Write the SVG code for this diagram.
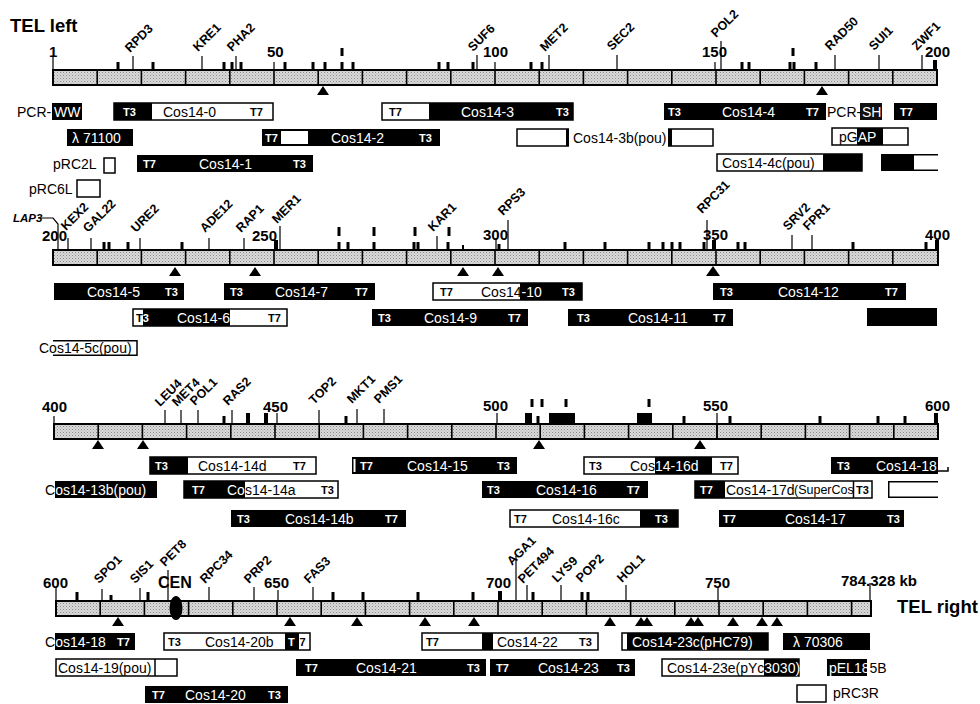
<svg xmlns="http://www.w3.org/2000/svg" width="980" height="704" viewBox="0 0 980 704">
<defs>
<pattern id="st" width="3" height="3" patternUnits="userSpaceOnUse"><rect width="3" height="3" fill="#dadada"/><rect width="1" height="1" fill="#8a8a8a"/><rect x="1.5" y="1.5" width="1" height="1" fill="#a8a8a8"/></pattern>
<style>
.bar{fill:url(#st);stroke:#000;stroke-width:2}
.dv{stroke:#000;stroke-width:1.6;fill:none}
.tk{fill:#000}
.gl{stroke:#000;stroke-width:1.2;fill:none}
.tri{fill:#000}
.gn{font-family:"Liberation Sans",Arial,sans-serif;font-weight:bold;font-size:12.5px;fill:#000}
.num{font-family:"Liberation Sans",Arial,sans-serif;font-weight:bold;font-size:15px;fill:#000}
.ttl{font-family:"Liberation Sans",Arial,sans-serif;font-weight:bold;font-size:18.5px;fill:#000}
.bk{fill:#000}
.wh{fill:#fff;stroke:#000;stroke-width:1.5}
.ol{fill:none;stroke:#000;stroke-width:1.5}
.t{font-family:"Liberation Sans",Arial,sans-serif;font-size:14px}
.p{font-family:"Liberation Sans",Arial,sans-serif;font-weight:bold;font-size:11px}
.w{fill:#fff}
.b{fill:#000}
</style>
</defs>
<rect width="980" height="704" fill="#fff"/>

<!-- ===== ROW 1 ===== -->
<g id="row1-map">
<text class="ttl" x="10" y="32">TEL left</text>
<rect class="bar" x="53" y="70" width="884" height="15"/>
<path class="dv" d="M97.2,70V85M141.4,70V85M185.6,70V85M229.8,70V85M274,70V85M318.2,70V85M362.4,70V85M406.6,70V85M450.8,70V85M495,70V85M539.2,70V85M583.4,70V85M627.6,70V85M671.8,70V85M716,70V85M760.2,70V85M804.4,70V85M848.6,70V85M892.8,70V85"/>
<path class="gl" d="M53,57V70M274,62V70M495,62V70M715,62V70"/>
<g class="tk">
<rect x="116.5" y="62" width="3" height="8"/><rect x="151.5" y="62" width="3" height="8"/><rect x="222.5" y="62" width="3" height="8"/><rect x="230.5" y="62" width="3" height="8"/><rect x="239.5" y="62" width="3" height="8"/><rect x="283.5" y="62" width="3" height="8"/><rect x="311.5" y="62" width="3" height="8"/><rect x="323.5" y="62" width="3" height="8"/><rect x="340.5" y="62" width="3" height="8"/><rect x="351.5" y="62" width="3" height="8"/><rect x="437.5" y="62" width="3" height="8"/><rect x="446.5" y="62" width="3" height="8"/><rect x="471.5" y="62" width="3" height="8"/><rect x="529.5" y="62" width="3" height="8"/><rect x="540.5" y="62" width="3" height="8"/><rect x="740.5" y="62" width="3" height="8"/><rect x="747.5" y="62" width="3" height="8"/><rect x="788.5" y="62" width="3" height="8"/><rect x="792.5" y="62" width="3" height="8"/><rect x="814.5" y="62" width="3" height="8"/><rect x="933" y="60" width="4" height="10"/>
<rect x="340.5" y="48" width="3" height="8"/><rect x="791.5" y="48" width="3" height="8"/>
</g>
<g class="tri">
<polygon points="317,95 323,86 329,95"/><polygon points="816,95 822,86 828,95"/>
</g>
<text class="num" x="49" y="57">1</text>
<text class="num" x="267" y="57">50</text>
<text class="num" x="483" y="57">100</text>
<text class="num" x="702" y="57">150</text>
<text class="num" x="925" y="57">200</text>
<text class="gn" transform="translate(130,53) rotate(-45)">RPD3</text>
<text class="gn" transform="translate(198,52) rotate(-45)">KRE1</text>
<text class="gn" transform="translate(232,52) rotate(-45)">PHA2</text>
<text class="gn" transform="translate(473,52) rotate(-45)">SUF6</text>
<text class="gn" transform="translate(545,52) rotate(-45)">MET2</text>
<text class="gn" transform="translate(612,51) rotate(-45)">SEC2</text>
<text class="gn" transform="translate(716,38) rotate(-45)">POL2</text>
<text class="gn" transform="translate(830,51) rotate(-45)">RAD50</text>
<text class="gn" transform="translate(874,51) rotate(-45)">SUI1</text>
<text class="gn" transform="translate(917,51) rotate(-45)">ZWF1</text>
</g>

<!-- ===== ROW 2 ===== -->
<g id="row2-map">
<rect class="bar" x="53" y="250" width="885" height="15"/>
<path class="dv" d="M97.2,250V265M141.4,250V265M185.6,250V265M229.8,250V265M274,250V265M318.2,250V265M362.4,250V265M406.6,250V265M450.8,250V265M495,250V265M539.2,250V265M583.4,250V265M627.6,250V265M671.8,250V265M716,250V265M760.2,250V265M804.4,250V265M848.6,250V265M892.8,250V265"/>
<path class="gl" d="M496,238V250"/>
<g class="tk">
<rect x="102.5" y="242" width="3" height="8"/><rect x="107.5" y="242" width="3" height="8"/><rect x="126.5" y="242" width="3" height="8"/><rect x="180.5" y="242" width="3" height="8"/><rect x="274" y="240" width="4" height="10"/><rect x="337.5" y="242" width="3" height="8"/><rect x="346.5" y="242" width="3" height="8"/><rect x="372.5" y="242" width="3" height="8"/><rect x="412.5" y="242" width="3" height="8"/><rect x="416.5" y="242" width="3" height="8"/><rect x="446.5" y="242" width="3" height="8"/><rect x="462" y="245" width="2" height="5"/><rect x="497.5" y="244" width="3" height="6"/><rect x="563.5" y="242" width="3" height="8"/><rect x="603.5" y="242" width="3" height="8"/><rect x="647.5" y="242" width="3" height="8"/><rect x="661.5" y="242" width="3" height="8"/><rect x="670.5" y="242" width="3" height="8"/><rect x="678.5" y="242" width="3" height="8"/><rect x="702.5" y="242" width="3" height="8"/><rect x="712" y="240" width="4" height="10"/><rect x="736.5" y="242" width="3" height="8"/><rect x="743.5" y="242" width="3" height="8"/><rect x="851.5" y="242" width="3" height="8"/><rect x="924.5" y="242" width="3" height="8"/><rect x="935" y="240" width="4" height="10"/>
<rect x="337.5" y="227" width="3" height="9"/><rect x="372.5" y="227" width="3" height="9"/><rect x="413.5" y="227" width="3" height="9"/><rect x="447.5" y="227" width="3" height="9"/>
</g>
<g class="tri">
<polygon points="169,276 175,267 181,276"/><polygon points="249,276 255,267 261,276"/><polygon points="457,276 463,267 469,276"/><polygon points="492,276 498,267 504,276"/><polygon points="706,276 713,266 720,276"/>
</g>
<text class="num" x="42" y="241">200</text>
<text class="num" x="252" y="241">250</text>
<text class="num" x="483" y="240">300</text>
<text class="num" x="703" y="240">350</text>
<text class="num" x="925" y="240">400</text>
<text x="13" y="222" style="font-family:'Liberation Sans',Arial,sans-serif;font-weight:bold;font-style:italic;font-size:11.5px">LAP3</text>
<text class="gn" transform="translate(66,231) rotate(-45)">KEX2</text>
<text class="gn" transform="translate(88,233) rotate(-45)">GAL22</text>
<text class="gn" transform="translate(136,233) rotate(-45)">URE2</text>
<text class="gn" transform="translate(205,233) rotate(-45)">ADE12</text>
<text class="gn" transform="translate(241,233) rotate(-45)">RAP1</text>
<text class="gn" transform="translate(277,224) rotate(-45)">MER1</text>
<text class="gn" transform="translate(433,232) rotate(-45)">KAR1</text>
<text class="gn" transform="translate(503,216) rotate(-45)">RPS3</text>
<text class="gn" transform="translate(702,214) rotate(-45)">RPC31</text>
<text class="gn" transform="translate(788,231) rotate(-45)">SRV2</text>
<text class="gn" transform="translate(808,231) rotate(-45)">FPR1</text>
</g>

<!-- ===== ROW 3 ===== -->
<g id="row3-map">
<rect class="bar" x="54" y="424" width="884" height="15"/>
<path class="dv" d="M98.2,424V439M142.4,424V439M186.6,424V439M230.8,424V439M275,424V439M319.2,424V439M363.4,424V439M407.6,424V439M451.8,424V439M496,424V439M540.2,424V439M584.4,424V439M628.6,424V439M672.8,424V439M717,424V439M761.2,424V439M805.4,424V439M849.6,424V439M893.8,424V439"/>
<path class="gl" d="M54,416V424M277,413V424M497,413V424M717,413V438"/>
<g class="tk">
<rect x="222.5" y="416" width="3" height="8"/><rect x="246" y="413" width="4" height="11"/><rect x="264" y="413" width="4" height="11"/><rect x="344.5" y="416" width="3" height="8"/><rect x="525" y="413" width="7" height="11"/><rect x="536.5" y="416" width="3" height="8"/><rect x="549" y="413" width="26" height="11"/><rect x="637" y="413" width="15" height="11"/><rect x="682.5" y="416" width="3" height="8"/><rect x="728.5" y="416" width="3" height="8"/><rect x="818.5" y="416" width="3" height="8"/><rect x="876.5" y="416" width="3" height="8"/><rect x="903.5" y="416" width="3" height="8"/><rect x="934" y="413" width="4" height="11"/>
<rect x="530.5" y="399" width="3" height="8"/><rect x="540.5" y="399" width="3" height="8"/><rect x="564.5" y="399" width="3" height="8"/><rect x="647.5" y="399" width="3" height="8"/>
</g>
<g class="tri">
<polygon points="92,449 98,440 104,449"/><polygon points="137,449 143,440 149,449"/><polygon points="533,449 539,440 545,449"/><polygon points="694,449 700,440 706,449"/>
</g>
<text class="num" x="42" y="412">400</text>
<text class="num" x="263" y="412">450</text>
<text class="num" x="483" y="411">500</text>
<text class="num" x="703" y="411">550</text>
<text class="num" x="925" y="411">600</text>
<text class="gn" transform="translate(160,407) rotate(-45)">LEU4</text>
<text class="gn" transform="translate(177,407) rotate(-45)">MET4</text>
<text class="gn" transform="translate(195,406) rotate(-45)">POL1</text>
<text class="gn" transform="translate(228,406) rotate(-45)">RAS2</text>
<text class="gn" transform="translate(314,405) rotate(-45)">TOP2</text>
<text class="gn" transform="translate(352,404) rotate(-45)">MKT1</text>
<text class="gn" transform="translate(379,404) rotate(-45)">PMS1</text>
</g>

<!-- ===== ROW 4 ===== -->
<g id="row4-map">
<rect class="bar" x="56" y="601" width="815" height="15"/>
<path class="dv" d="M100.2,601V616M144.4,601V616M188.6,601V616M232.8,601V616M277,601V616M321.2,601V616M365.4,601V616M409.6,601V616M453.8,601V616M498,601V616M542.2,601V616M586.4,601V616M630.6,601V616M674.8,601V616M719,601V616M763.2,601V616M807.4,601V616M851.6,601V616"/>
<path class="gl" d="M56,587V601M278,590V601M718,587V601M870,583V601"/>
<g class="tk">
<rect x="75.5" y="592" width="3" height="8"/><rect x="109.5" y="595" width="3" height="5"/><rect x="146.5" y="592" width="3" height="8"/><rect x="331.5" y="592" width="3" height="8"/><rect x="361.5" y="592" width="3" height="8"/><rect x="416.5" y="592" width="3" height="8"/><rect x="471.5" y="592" width="3" height="8"/><rect x="498" y="591" width="4" height="9"/><rect x="531.5" y="592" width="3" height="8"/><rect x="580.5" y="592" width="3" height="8"/><rect x="586.5" y="592" width="3" height="8"/>
</g>
<ellipse cx="176" cy="608" rx="6.5" ry="12" fill="#000"/>
<g class="tri">
<polygon points="112,626 118,617 124,626"/><polygon points="284,626 290,617 296,626"/><polygon points="351,626 357,617 363,626"/><polygon points="419,626 425,617 431,626"/><polygon points="468,626 474,617 480,626"/><polygon points="604,626 610,617 616,626"/><polygon points="635,626 641,617 647,626"/><polygon points="641,626 647,617 653,626"/><polygon points="685,626 691,617 697,626"/><polygon points="692,626 698,617 704,626"/><polygon points="727,626 733,617 739,626"/><polygon points="756,626 762,617 768,626"/><polygon points="771,626 777,617 783,626"/>
</g>
<text class="num" x="43" y="588">600</text>
<text class="num" x="264" y="588">650</text>
<text class="num" x="486" y="588">700</text>
<text class="num" x="705" y="588">750</text>
<text class="num" x="841" y="586">784.328 kb</text>
<text class="ttl" x="897" y="613">TEL right</text>
<text x="158" y="588" style="font-family:'Liberation Sans',Arial,sans-serif;font-weight:bold;font-size:16px">CEN</text>
<text class="gn" transform="translate(99,584) rotate(-45)">SPO1</text>
<text class="gn" transform="translate(135,584) rotate(-45)">SIS1</text>
<text class="gn" transform="translate(165,567) rotate(-45)">PET8</text>
<text class="gn" transform="translate(205,584) rotate(-45)">RPC34</text>
<text class="gn" transform="translate(249,584) rotate(-45)">PRP2</text>
<text class="gn" transform="translate(309,584) rotate(-45)">FAS3</text>
<text class="gn" transform="translate(512,566) rotate(-45)">AGA1</text>
<text class="gn" transform="translate(523,584) rotate(-45)">PET494</text>
<text class="gn" transform="translate(557,583) rotate(-45)">LYS9</text>
<text class="gn" transform="translate(581,583) rotate(-45)">POP2</text>
<text class="gn" transform="translate(622,583) rotate(-45)">HOL1</text>
</g>

<!-- ===== gene connector lines ===== -->
<g id="connectors" class="gl">
<path d="M133,56V70M202,56V70M236,56V70M477,55V70M549,55V70M617,55V70M721,41V70M835,55V70M879,55V70M922,55V70"/>
<path d="M38,218H53L58,224V250M68,238V250M91,238V250M140,238V250M209,238V250M244,238V250M280,226V250M437,236V250M508,220V250M707,220V250M792,235V250M812,235V250"/>
<path d="M165,410V424M181,410V424M198,410V424M232,410V424M319,410V424M357,409V424M384,409V424"/>
<path d="M102,589V601M140,588V601M168,570V601M209,587V601M254,587V601M313,587V601M516,556V601M527,585V601M561,585V601M626,585V601"/>
</g>

<!-- ===== ROW 1 clones ===== -->
<g id="pcr-ww"><text class="t b" x="17" y="117">PCR-</text><rect class="bk" x="52" y="103" width="30" height="17"/><text class="t w" x="54" y="117">WW</text></g>
<g id="cos14-0"><rect class="wh" x="114" y="103" width="159" height="17"/><rect class="bk" x="114" y="103" width="38" height="17"/><text class="p w" x="123" y="116">T3</text><text class="t b" x="163" y="117">Cos14-0</text><text class="p b" x="250" y="116">T7</text></g>
<g id="cos14-3"><rect class="wh" x="382" y="103" width="191" height="17"/><rect class="bk" x="429" y="103" width="144" height="17"/><text class="p b" x="389" y="116">T7</text><text class="t w" x="461" y="117">Cos14-3</text><text class="p w" x="556" y="116">T3</text></g>
<g id="cos14-4"><rect class="bk" x="664" y="103" width="162" height="17"/><text class="p w" x="668" y="116">T3</text><text class="t w" x="722" y="117">Cos14-4</text><text class="p w" x="806" y="116">T7</text></g>
<g id="pcr-sh"><rect fill="#111" x="860" y="103" width="22" height="17"/><text class="t b" x="827" y="117">PCR-</text><text class="t w" x="862" y="117">SH</text></g>
<g id="t7-end"><rect class="bk" x="894" y="103" width="43" height="17"/><text class="p w" x="900" y="116">T7</text></g>

<g id="lambda71100"><rect class="bk" x="67" y="129" width="66" height="17"/><text class="t w" x="72" y="143">λ 71100</text></g>
<g id="cos14-2"><rect class="bk" x="262" y="129" width="178" height="17"/><rect fill="#fff" x="281" y="131" width="27" height="13"/><text class="p w" x="265" y="142">T7</text><text class="t w" x="331" y="143">Cos14-2</text><text class="p w" x="419" y="142">T3</text></g>
<g id="cos14-3b"><rect class="wh" x="517" y="129" width="196" height="17"/><rect fill="#fff" x="569" y="127" width="99" height="21"/><rect class="bk" x="566" y="129" width="3" height="17"/><rect class="bk" x="668" y="129" width="4" height="17"/><text class="t b" x="573" y="143">Cos14-3b(pou)</text></g>
<g id="pgap"><rect class="wh" x="832" y="128" width="76" height="17"/><rect class="bk" x="857" y="128" width="26" height="17"/><text class="t" x="839" y="142"><tspan class="b">pG</tspan><tspan class="w">AP</tspan></text></g>

<g id="prc2l"><text class="t b" x="53" y="169">pRC2L</text><rect class="wh" x="104" y="158" width="11" height="15"/></g>
<g id="cos14-1"><rect class="bk" x="137" y="155" width="176" height="17"/><text class="p w" x="143" y="168">T7</text><text class="t w" x="199" y="169">Cos14-1</text><text class="p w" x="293" y="168">T3</text></g>
<g id="cos14-4c"><rect class="wh" x="717" y="154" width="145" height="17"/><rect class="bk" x="823" y="154" width="39" height="17"/><text class="t b" x="722" y="168">Cos14-4c(pou)</text></g>
<g id="clone-r1c"><rect class="bk" x="881" y="154" width="33" height="17"/><path class="ol" d="M914,154.75H938M914,170.25H938"/></g>

<g id="prc6l"><text class="t b" x="29" y="194">pRC6L</text><rect class="wh" x="77" y="180" width="23" height="17"/></g>

<!-- ===== ROW 2 clones ===== -->
<g id="cos14-5"><rect class="bk" x="54" y="283" width="130" height="17"/><text class="t w" x="87" y="297">Cos14-5</text><text class="p w" x="165" y="296">T3</text></g>
<g id="cos14-7"><rect class="bk" x="224" y="283" width="151" height="17"/><text class="p w" x="230" y="296">T3</text><text class="t w" x="275" y="297">Cos14-7</text><text class="p w" x="355" y="296">T7</text></g>
<g id="cos14-10"><rect class="wh" x="433" y="283" width="149" height="17"/><rect class="bk" x="520" y="283" width="62" height="17"/><text class="p b" x="440" y="296">T7</text><text class="t" x="481" y="297"><tspan class="b">Cos14</tspan><tspan class="w">-10</tspan></text><text class="p w" x="562" y="296">T3</text></g>
<g id="cos14-12"><rect class="bk" x="713" y="283" width="193" height="17"/><text class="p w" x="720" y="296">T3</text><text class="t w" x="778" y="297">Cos14-12</text><text class="p w" x="885" y="296">T7</text></g>

<g id="cos14-6"><rect class="wh" x="133" y="309" width="154" height="17"/><rect class="bk" x="143" y="309" width="87" height="17"/><text class="p" x="136" y="322"><tspan class="b">T</tspan><tspan class="w">3</tspan></text><text class="t w" x="177" y="323">Cos14-6</text><text class="p b" x="268" y="322">T7</text></g>
<g id="cos14-9"><rect class="bk" x="372" y="309" width="156" height="17"/><text class="p w" x="378" y="322">T3</text><text class="t w" x="424" y="323">Cos14-9</text><text class="p w" x="508" y="322">T7</text></g>
<g id="cos14-11"><rect class="bk" x="568" y="309" width="165" height="17"/><text class="p w" x="577" y="322">T3</text><text class="t w" x="628" y="323">Cos14-11</text><text class="p w" x="713" y="322">T7</text></g>
<g id="clone-r2b"><rect class="bk" x="867" y="308" width="70" height="18"/></g>

<g id="cos14-5c"><rect fill="#fff" x="53" y="340" width="84" height="16"/><path class="ol" d="M53,340.75H137V355.25H53"/><text class="t b" x="39" y="353">Cos14-5c(pou)</text></g>

<!-- ===== ROW 3 clones ===== -->
<g id="cos14-14d"><rect class="wh" x="150" y="457" width="166" height="17"/><rect class="bk" x="150" y="457" width="38" height="17"/><text class="p w" x="155" y="470">T3</text><text class="t b" x="198" y="471">Cos14-14d</text><text class="p b" x="293" y="470">T7</text></g>
<g id="cos14-15"><rect class="bk" x="352" y="457" width="165" height="17"/><rect fill="#fff" x="353.5" y="459" width="2" height="13"/><text class="p w" x="360" y="470">T7</text><text class="t w" x="407" y="471">Cos14-15</text><text class="p w" x="497" y="470">T3</text></g>
<g id="cos14-16d"><rect class="wh" x="584" y="457" width="154" height="17"/><rect class="bk" x="655" y="457" width="57" height="17"/><text class="p b" x="589" y="470">T3</text><text class="t" x="630" y="471"><tspan class="b">Cos</tspan><tspan class="w">14-16d</tspan></text><text class="p b" x="720" y="470">T7</text></g>
<g id="cos14-18a"><rect class="bk" x="831" y="457" width="107" height="17"/><text class="p w" x="837" y="470">T3</text><text class="t w" x="876" y="471">Cos14-18</text><path class="ol" d="M938,471H948V467"/></g>

<g id="cos14-13b"><rect class="bk" x="55" y="481" width="102" height="17"/><text class="t" x="45" y="495"><tspan class="b">C</tspan><tspan class="w">os14-13b(pou)</tspan></text></g>
<g id="cos14-14a"><rect class="wh" x="184" y="481" width="154" height="17"/><rect class="bk" x="184" y="481" width="61" height="17"/><text class="p w" x="192" y="494">T7</text><text class="t" x="227" y="495"><tspan class="w">Co</tspan><tspan class="b">s14-14a</tspan></text><text class="p b" x="321" y="494">T3</text></g>
<g id="cos14-16"><rect class="bk" x="482" y="481" width="166" height="17"/><text class="p w" x="487" y="494">T3</text><text class="t w" x="536" y="495">Cos14-16</text><text class="p w" x="627" y="494">T7</text></g>
<g id="cos14-17d"><rect class="wh" x="695" y="481" width="177" height="17"/><rect class="bk" x="695" y="481" width="30" height="17"/><text class="p w" x="700" y="494">T7</text><text class="t b" x="726" y="495">Cos14-17d</text><text x="794" y="494" style="font-family:'Liberation Sans',Arial,sans-serif;font-size:12.5px">(SuperCos</text><path class="ol" d="M853.5,481V498"/><text class="p b" x="856" y="494">T3</text></g>
<g id="clone-r3b"><path class="ol" d="M938,481.75H888.75V497.25H938"/></g>

<g id="cos14-14b"><rect class="bk" x="231" y="510" width="175" height="17"/><text class="p w" x="237" y="523">T3</text><text class="t w" x="285" y="524">Cos14-14b</text><text class="p w" x="385" y="523">T7</text></g>
<g id="cos14-16c"><rect class="wh" x="510" y="510" width="168" height="17"/><rect class="bk" x="640" y="510" width="38" height="17"/><text class="p b" x="514" y="523">T7</text><text class="t b" x="552" y="524">Cos14-16c</text><text class="p w" x="655" y="523">T3</text></g>
<g id="cos14-17"><rect class="bk" x="719" y="510" width="185" height="17"/><text class="p w" x="723" y="523">T7</text><text class="t w" x="785" y="524">Cos14-17</text><text class="p w" x="887" y="523">T3</text></g>

<!-- ===== ROW 4 clones ===== -->
<g id="cos14-18b"><rect class="bk" x="55" y="633" width="80" height="17"/><text class="t" x="45" y="647"><tspan class="b">C</tspan><tspan class="w">os14-18</tspan></text><text class="p w" x="117" y="646">T7</text></g>
<g id="cos14-20b"><rect class="wh" x="164" y="633" width="146" height="17"/><rect class="bk" x="285" y="633" width="14" height="17"/><text class="p b" x="168" y="646">T3</text><text class="t b" x="205" y="647">Cos14-20b</text><text class="p" x="288" y="646"><tspan class="w">T</tspan><tspan class="b" x="299.5">7</tspan></text></g>
<g id="cos14-22"><rect class="wh" x="422" y="633" width="176" height="17"/><rect class="bk" x="482" y="633" width="11" height="17"/><text class="p b" x="426" y="646">T7</text><text class="t b" x="497" y="647">Cos14-22</text><text class="p b" x="579" y="646">T3</text></g>
<g id="cos14-23c"><rect class="wh" x="622" y="633" width="146" height="17"/><rect class="bk" x="627" y="633" width="141" height="17"/><text class="t w" x="632" y="647">Cos14-23c(pHC79)</text></g>
<g id="lambda70306"><rect class="bk" x="783" y="633" width="87" height="17"/><text class="t w" x="793" y="647">λ 70306</text></g>

<g id="cos14-19"><rect class="wh" x="56" y="659" width="121" height="17"/><path class="ol" d="M155,659V676"/><text class="t b" x="58" y="673">Cos14-19(pou)</text></g>
<g id="cos14-21"><rect class="bk" x="296" y="659" width="190" height="17"/><text class="p w" x="305" y="672">T7</text><text class="t w" x="356" y="673">Cos14-21</text><text class="p w" x="467" y="672">T3</text></g>
<g id="cos14-23"><rect class="bk" x="490" y="659" width="145" height="17"/><text class="p w" x="496" y="672">T7</text><text class="t w" x="538" y="673">Cos14-23</text><text class="p w" x="617" y="672">T3</text></g>
<g id="cos14-23e"><rect class="wh" x="662" y="659" width="137" height="17"/><rect class="bk" x="764" y="659" width="35" height="17"/><text class="t" x="667" y="673"><tspan class="b">Cos14-23e(pYc</tspan><tspan class="w">3030)</tspan></text></g>
<g id="pel185b"><rect class="bk" x="827" y="659" width="40" height="17"/><text class="t" x="829" y="673"><tspan class="w">pEL18</tspan><tspan class="b">5B</tspan></text></g>

<g id="cos14-20"><rect class="bk" x="145" y="686" width="143" height="17"/><text class="p w" x="152" y="699">T7</text><text class="t w" x="185" y="700">Cos14-20</text><text class="p w" x="268" y="699">T3</text></g>
<g id="prc3r"><rect class="wh" x="797" y="685" width="29" height="17"/><text class="t b" x="833" y="698">pRC3R</text></g>
</svg>
